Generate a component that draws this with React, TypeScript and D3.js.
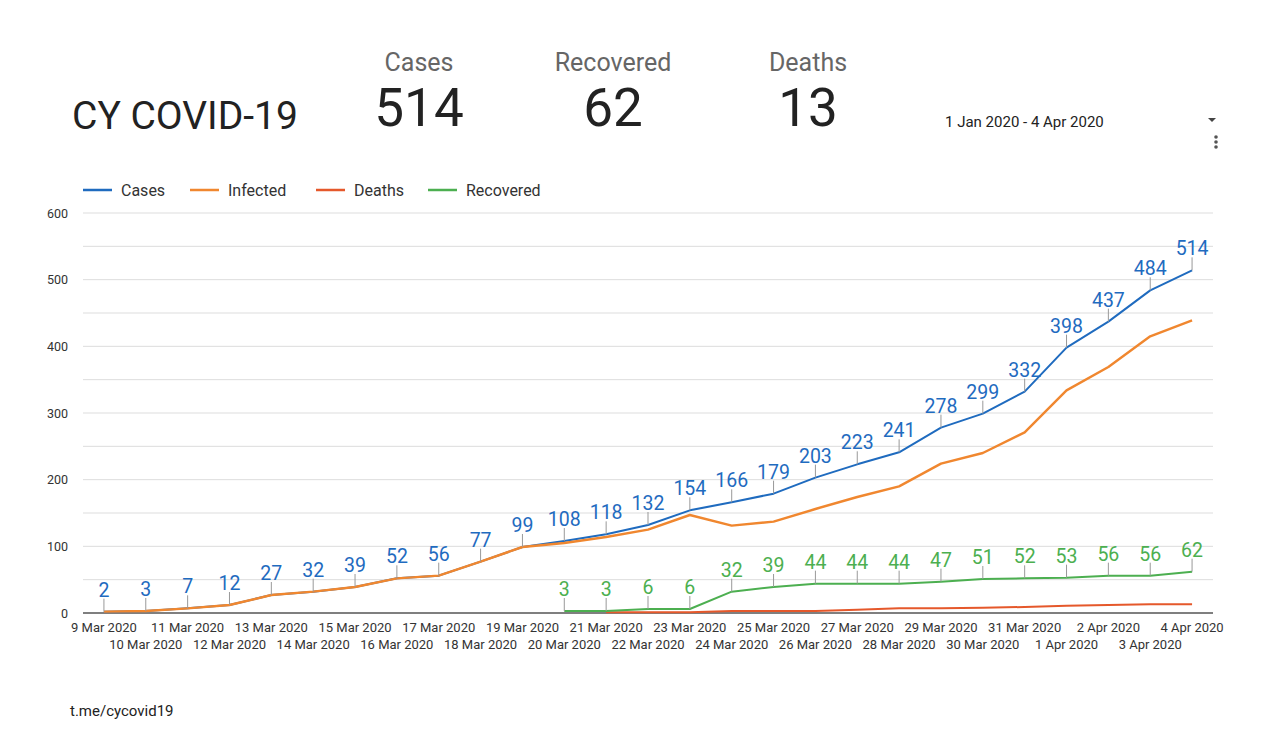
import React from "react";
import * as d3 from "d3";

const dates = [
  "9 Mar 2020", "10 Mar 2020", "11 Mar 2020", "12 Mar 2020", "13 Mar 2020", "14 Mar 2020",
  "15 Mar 2020", "16 Mar 2020", "17 Mar 2020", "18 Mar 2020", "19 Mar 2020", "20 Mar 2020",
  "21 Mar 2020", "22 Mar 2020", "23 Mar 2020", "24 Mar 2020", "25 Mar 2020", "26 Mar 2020",
  "27 Mar 2020", "28 Mar 2020", "29 Mar 2020", "30 Mar 2020", "31 Mar 2020", "1 Apr 2020",
  "2 Apr 2020", "3 Apr 2020", "4 Apr 2020",
];
const cases = [2, 3, 7, 12, 27, 32, 39, 52, 56, 77, 99, 108, 118, 132, 154, 166, 179, 203, 223, 241, 278, 299, 332, 398, 437, 484, 514];
// null = not reported yet
const recovered: (number | null)[] = [null, null, null, null, null, null, null, null, null, null, null,
  3, 3, 6, 6, 32, 39, 44, 44, 44, 47, 51, 52, 53, 56, 56, 62];
const deaths: (number | null)[] = [null, null, null, null, null, null, null, null, null, null, null, null,
  1, 1, 1, 3, 3, 3, 5, 7, 7, 8, 9, 11, 12, 13, 13];
const infected = cases.map((c, i) => c - (recovered[i] ?? 0) - (deaths[i] ?? 0));
const yTicks = [0, 100, 200, 300, 400, 500, 600];

const BLUE = "#1f6bbf";
const ORANGE = "#f0872f";
const RED = "#e5582b";
const GREEN = "#4caf50";

const W = 1280, H = 742;
const left = 83, right = 1213, top = 213, bottom = 613;
const font = "Roboto, sans-serif";

export default function App() {
  const x = d3.scalePoint<string>().domain(dates).range([left, right]).padding(0.5);
  const y = d3.scaleLinear().domain([0, 600]).range([bottom, top]);

  const line = d3
    .line<number | null>()
    .defined(d => d !== null)
    .x((_, i) => x(dates[i]) as number)
    .y(d => y(d as number));

  const series = [
    { name: "Cases", values: cases as (number | null)[], color: BLUE, labels: true },
    { name: "Infected", values: infected as (number | null)[], color: ORANGE, labels: false },
    { name: "Deaths", values: deaths, color: RED, labels: false },
    { name: "Recovered", values: recovered, color: GREEN, labels: true },
  ];
  const legendX = [83, 190, 316, 428];
  const grid = d3.range(50, 601, 50);

  return (
    <svg width={W} height={H} style={{ position: "absolute", left: 0, top: 0, background: "#fff" }}>
      {/* header */}
      <text x={72} y={129} fontFamily={font} fontSize={39} fill="#222">CY COVID-19</text>
      {[
        { t: "Cases", v: "514", cx: 419 },
        { t: "Recovered", v: "62", cx: 613 },
        { t: "Deaths", v: "13", cx: 808 },
      ].map(s => (
        <g key={s.t} textAnchor="middle" fontFamily={font}>
          <text x={s.cx} y={71} fontSize={25} fill="#666">{s.t}</text>
          <text x={s.cx} y={126} fontSize={53} fill="#222">{s.v}</text>
        </g>
      ))}
      <text x={945} y={127} fontFamily={font} fontSize={15} fill="#222">1 Jan 2020 - 4 Apr 2020</text>
      <path d="M1208,118 L1216,118 L1212,122 Z" fill="#444" />
      {[137, 142, 147].map(cy => <circle key={cy} cx={1216} cy={cy} r={1.8} fill="#555" />)}

      {/* legend */}
      {series.map((s, i) => (
        <g key={s.name}>
          <line x1={legendX[i]} x2={legendX[i] + 29} y1={190} y2={190} stroke={s.color} strokeWidth={2.5} />
          <text x={legendX[i] + 38} y={196} fontFamily={font} fontSize={16} fill="#333">{s.name}</text>
        </g>
      ))}

      {/* grid */}
      {grid.map(g => (
        <line key={g} x1={left} x2={right} y1={y(g)} y2={y(g)} stroke="#ddd" strokeWidth={1} />
      ))}
      <line x1={left} x2={right} y1={y(0)} y2={y(0)} stroke="#555" strokeWidth={1.5} />
      {yTicks.map(t => (
        <text key={t} x={68} y={y(t) + 4.5} textAnchor="end" fontFamily={font} fontSize={12.5} fill="#333">{t}</text>
      ))}
      {dates.map((d, i) => (
        <text key={d} x={x(d)} y={i % 2 === 0 ? 632 : 649} textAnchor="middle" fontFamily={font} fontSize={13} fill="#333">{d}</text>
      ))}

      {/* lines */}
      {series.map(s => (
        <path key={s.name} d={line(s.values) || ""} fill="none" stroke={s.color}
          strokeWidth={s.name === "Infected" ? 2.4 : 2} strokeLinejoin="round" />
      ))}

      {/* data labels */}
      {series.filter(s => s.labels).map(s => (
        <g key={s.name + "-labels"}>
          {s.values.map((v, i) => v === null ? null : (
            <g key={i}>
              <line x1={x(dates[i])} x2={x(dates[i])} y1={y(v)} y2={y(v) - 13} stroke="#999" strokeWidth={1} />
              <text x={x(dates[i])} y={y(v) - 15} textAnchor="middle" fontFamily={font} fontSize={19.5} fill={s.color}>{v}</text>
            </g>
          ))}
        </g>
      ))}

      <text x={70} y={716} fontFamily={font} fontSize={15} fill="#222">t.me/cycovid19</text>
    </svg>
  );
}
